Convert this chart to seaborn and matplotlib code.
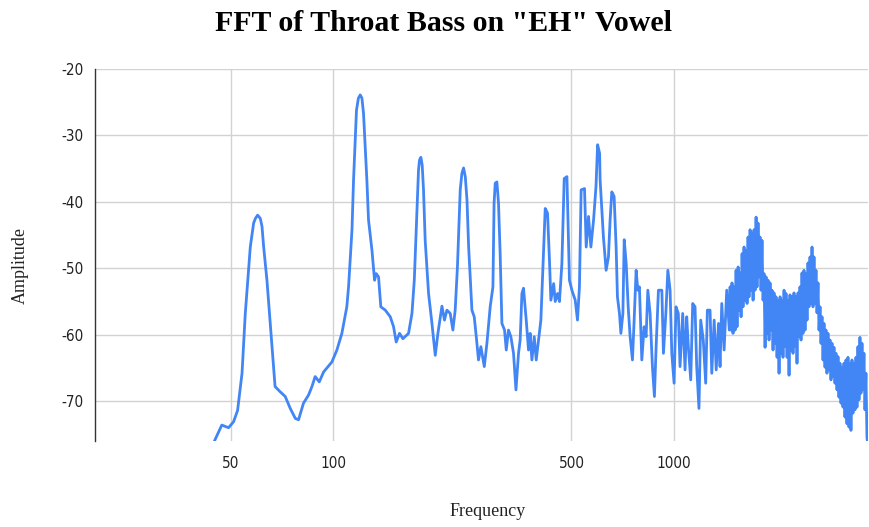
import matplotlib
matplotlib.use("Agg")
import matplotlib.pyplot as plt
from matplotlib import font_manager
from matplotlib.ticker import NullLocator
import pandas as pd
import seaborn as sns

# Spectrum of a throat-sung bass "EH" vowel: frequency (Hz) and level (dB),
# split into bands so each list stays readable.
fund_freq = [43.0, 47.1, 49.3, 51.0, 52.4, 54.0, 55.2, 57.1, 58.4, 59.1,
             60.0, 61.1, 61.8, 62.5, 63.9, 66.1, 67.5, 69.9, 72.3, 74.8,
             77.4, 79.1, 81.8, 84.6, 86.6, 88.5, 91.0, 93.7, 99.1, 102.5,
             106.0, 109.6]
fund_amp = [-78.0, -73.6, -74.0, -73.1, -71.4, -65.8, -56.8, -46.8, -43.2, -42.5,
            -42.0, -42.5, -43.7, -46.8, -51.8, -61.8, -67.8, -68.6, -69.3, -71.1,
            -72.6, -72.8, -70.3, -69.1, -67.8, -66.3, -67.1, -65.6, -64.1, -62.3,
            -59.8, -55.8]

harm_freq = [110.9, 113.5, 114.7, 117.0, 118.5, 120.0, 121.4, 122.7, 124.1, 125.5,
             126.9, 129.9, 132.2, 133.7, 135.8, 137.9, 142.1, 147.0, 150.3, 153.0,
             156.5, 160.1, 166.3, 170.2, 172.9, 176.0, 177.9, 179.1, 180.8, 182.4,
             184.0, 186.1, 190.4, 194.8, 199.2, 202.8, 208.4, 212.0, 215.5, 220.4,
             224.4, 227.9, 231.4, 235.8, 238.5, 241.2, 244.0, 246.8, 249.6, 255.2,
             259.2, 262.8, 266.8, 271.1, 277.4, 282.4, 288.7, 294.1, 296.4, 298.7,
             302.1, 305.4, 308.8, 312.5, 318.1, 321.8, 326.7, 332.0, 338.0, 343.6,
             349.6, 353.5, 357.7, 361.6, 368.3, 374.0, 378.2, 382.7, 388.8, 394.0,
             400.1, 406.6, 413.9, 418.7, 425.3, 430.9, 435.0, 443.3, 448.0, 455.0,
             461.0, 468.6, 476.0, 484.8, 493.2, 501.4, 512.8, 520.7, 527.6, 533.7,
             546.0, 552.3, 561.0, 570.0, 580.5, 590.0, 596.5, 604.7]
harm_amp = [-52.8, -44.2, -36.7, -26.2, -24.4, -23.9, -24.4, -26.7, -31.7, -36.7,
            -42.7, -47.3, -51.8, -50.8, -51.3, -55.8, -56.3, -57.3, -58.8, -61.1,
            -59.8, -60.6, -59.8, -56.8, -51.8, -41.7, -35.2, -33.7, -33.3, -34.5,
            -38.2, -45.8, -53.8, -58.3, -63.1, -59.8, -55.7, -57.8, -56.3, -56.8,
            -59.3, -56.3, -49.8, -38.2, -35.7, -34.9, -36.2, -39.7, -46.8, -56.3,
            -57.3, -60.3, -63.8, -61.8, -64.8, -61.3, -55.8, -52.8, -40.2, -37.2,
            -37.0, -40.2, -47.8, -58.3, -59.3, -62.3, -59.3, -60.3, -62.8, -68.3,
            -62.8, -60.8, -53.8, -53.0, -57.8, -62.3, -59.8, -63.8, -60.3, -63.8,
            -60.8, -57.8, -47.8, -41.0, -41.7, -48.8, -54.8, -52.3, -55.0, -53.8,
            -55.0, -49.3, -36.5, -36.2, -51.8, -53.3, -54.8, -57.8, -52.8, -38.2,
            -38.0, -46.8, -42.2, -46.8, -42.7, -37.7, -31.4, -32.7]

mid_freq = [606.7, 620.4, 631.8, 641.8, 649.1, 656.6, 666.9, 676.0, 682.0, 691.4,
            698.1, 707.6, 713.9, 723.6, 733.4, 743.0, 754.8, 763.5, 773.8, 782.8,
            791.2, 804.1, 816.7, 827.8, 837.4, 850.4, 863.8, 875.6, 885.7, 899.6,
            920.6, 930.6, 945.8, 958.7, 973.4, 984.6, 1000, 1013, 1029, 1041,
            1060, 1077, 1089, 1101, 1119, 1134, 1152, 1165, 1183, 1197,
            1218, 1238, 1252, 1275, 1290, 1311, 1329, 1350, 1364, 1380,
            1402, 1427, 1452]
mid_amp = [-36.7, -45.3, -50.3, -48.3, -42.7, -38.5, -39.2, -46.8, -54.3, -56.8,
           -59.8, -56.8, -45.7, -49.3, -55.8, -60.3, -63.8, -57.8, -50.3, -53.3,
           -52.8, -63.8, -58.8, -60.3, -53.3, -56.8, -64.8, -69.3, -61.8, -53.3,
           -53.3, -62.8, -56.8, -50.3, -53.3, -62.8, -67.3, -55.8, -56.8, -64.8,
           -56.8, -65.3, -57.3, -61.8, -66.8, -55.3, -55.8, -64.8, -71.1, -57.8,
           -60.8, -67.3, -56.3, -56.3, -65.8, -57.8, -65.3, -58.3, -64.8, -55.3,
           -62.3, -53.3, -59.3]

high_freq = [1460, 1469, 1479, 1489, 1499, 1510, 1520, 1530, 1541, 1551,
             1561, 1572, 1583, 1593, 1604, 1615, 1626, 1637, 1648, 1659,
             1671, 1682, 1693, 1705, 1716, 1728, 1740, 1751, 1763, 1775,
             1787, 1799, 1811, 1824, 1836, 1849, 1861, 1874, 1886, 1899,
             1912, 1925, 1938, 1951, 1964, 1978, 1991, 2005, 2018, 2032,
             2046, 2059, 2073, 2087, 2102, 2116, 2130, 2145, 2159, 2174,
             2188, 2203, 2218, 2233, 2248, 2264, 2279, 2294, 2310, 2326,
             2341, 2357, 2373, 2389, 2405, 2422, 2438, 2455, 2471, 2488,
             2505, 2522, 2539, 2556, 2573, 2591, 2608, 2626, 2644, 2662,
             2680, 2698, 2716, 2735, 2753, 2772, 2790, 2809, 2828, 2848,
             2867, 2886, 2906, 2926, 2945, 2965, 2985, 3006, 3026, 3046,
             3067, 3088, 3109, 3130, 3151, 3172, 3194, 3215, 3237, 3259,
             3281, 3303, 3326, 3348, 3371, 3394, 3417, 3440, 3463, 3487,
             3510, 3534, 3558, 3582, 3606, 3631, 3655, 3680, 3705]
high_amp = [-52.8, -59.3, -52.2, -59.8, -52.8, -59.3, -50.3, -58.8, -49.8, -56.3,
            -50.7, -57.3, -47.8, -55.8, -46.8, -54.8, -47.3, -55.3, -45.3, -54.3,
            -44.2, -53.3, -44.7, -54.8, -44.2, -53.3, -42.3, -52.8, -43.2, -51.3,
            -45.3, -53.3, -45.8, -54.8, -50.8, -61.9, -51.3, -59.8, -51.8, -60.8,
            -52.2, -59.3, -53.3, -62.3, -53.7, -61.3, -54.3, -63.4, -54.8, -65.8,
            -54.3, -62.8, -54.8, -63.4, -53.3, -61.8, -53.8, -63.4, -54.8, -66.1,
            -54.0, -62.3, -54.3, -62.8, -53.7, -61.8, -54.3, -64.3, -53.7, -60.3,
            -52.8, -60.8, -50.7, -59.8, -50.3, -59.3, -50.8, -57.8, -49.2, -55.8,
            -48.3, -55.3, -46.8, -55.8, -48.3, -55.3, -50.3, -56.7, -52.2, -59.3,
            -55.8, -61.3, -57.3, -63.8, -58.3, -64.9, -59.3, -65.8, -59.8, -65.3,
            -60.8, -66.8, -61.3, -66.3, -61.9, -67.3, -62.8, -68.3, -63.3, -69.4,
            -64.3, -70.3, -64.9, -70.9, -64.3, -72.4, -63.8, -73.4, -63.4, -73.9,
            -64.3, -74.4, -63.8, -71.8, -64.3, -71.3, -63.4, -70.9, -61.8, -69.8,
            -60.4, -68.8, -61.3, -68.3, -62.8, -71.3, -65.8, -75.4, -77.0]

x_ticks = [50, 100, 500, 1000]
x_tick_labels = ["50", "100", "500", "1000"]
y_ticks = [-70, -60, -50, -40, -30, -20]
y_tick_labels = ["-70", "-60", "-50", "-40", "-30", "-20"]

df = pd.DataFrame({
    "Frequency": fund_freq + harm_freq + mid_freq + high_freq,
    "Amplitude": fund_amp + harm_amp + mid_amp + high_amp,
})

sns.set_style("white")

# narrow sans face for the tick numbers, if one is available
tick_font = None
for entry in font_manager.fontManager.ttflist:
    if entry.name == "Liberation Sans Narrow" and entry.weight in (400, "normal") and entry.style == "normal":
        tick_font = font_manager.FontProperties(fname=entry.fname, size=12)
        break
if tick_font is None:
    for entry in font_manager.fontManager.ttflist:
        if entry.name == "DejaVu Sans" and entry.stretch == "condensed" and entry.weight in (400, "normal") and entry.style == "normal":
            tick_font = font_manager.FontProperties(fname=entry.fname, size=11)
            break
if tick_font is None:
    tick_font = font_manager.FontProperties(family=["Liberation Sans", "DejaVu Sans"], size=11)

serif_family = ["Liberation Serif", "DejaVu Serif"]

fig = plt.figure(figsize=(8.7, 5.27), dpi=100)
ax = fig.add_axes([95 / 870, 1 - 441 / 527, (868 - 95) / 870, (441 - 69) / 527])

sns.lineplot(data=df, x="Frequency", y="Amplitude", ax=ax, sort=False,
             estimator=None, color="#4285F4", linewidth=2.0, zorder=3)

ax.set_xscale("log")
ax.set_xlim(20, 3706)
ax.set_ylim(-76, -20)

ax.set_xticks(x_ticks)
ax.set_xticklabels(x_tick_labels)
ax.xaxis.set_minor_locator(NullLocator())
ax.set_yticks(y_ticks)
ax.set_yticklabels(y_tick_labels)

ax.grid(True, color="#d2d2d2", linewidth=1.0)
ax.set_axisbelow(True)
for side in ("top", "right", "bottom"):
    ax.spines[side].set_visible(False)
ax.spines["left"].set_color("#333333")
ax.spines["left"].set_linewidth(1.0)

ax.tick_params(axis="both", length=0, labelcolor="#222222")
ax.tick_params(axis="x", pad=11)
ax.tick_params(axis="y", pad=8)
for lab in ax.get_xticklabels() + ax.get_yticklabels():
    lab.set_fontproperties(tick_font)

ax.set_xlabel("")
ax.set_ylabel("")
fig.text(488 / 870, 1 - 511 / 527, "Frequency", ha="center", va="center",
         fontsize=13, family=serif_family, color="#222222")
fig.text(20 / 870, 1 - 266 / 527, "Amplitude", ha="center", va="center",
         rotation=90, fontsize=13, family=serif_family, color="#222222")
fig.text(444 / 870, 1 - 23.5 / 527, "FFT of Throat Bass on \"EH\" Vowel",
         ha="center", va="center", fontsize=21.5, fontweight="bold",
         family=serif_family, color="#000000")

fig.savefig("out.png", dpi=100)
